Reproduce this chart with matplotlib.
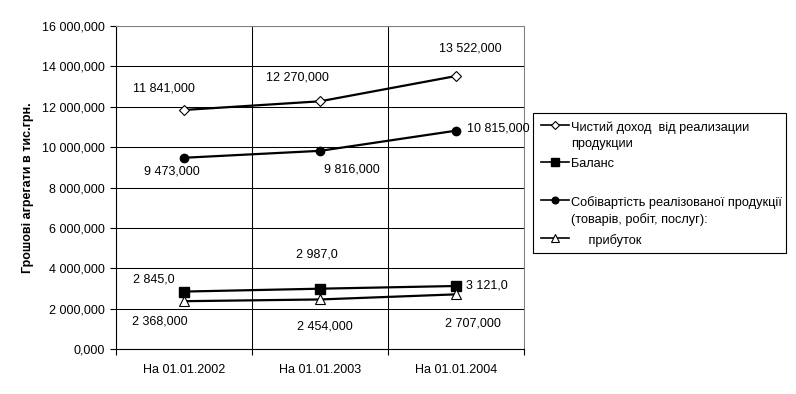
import matplotlib
matplotlib.use("Agg")
import matplotlib.pyplot as plt
from matplotlib.lines import Line2D
from matplotlib.patches import Rectangle
from matplotlib.ticker import FuncFormatter, MultipleLocator

plt.rcParams["font.family"] = ["Liberation Sans", "DejaVu Sans"]
plt.rcParams["font.size"] = 9

# --- data (тис. грн) ---
categories = ["На 01.01.2002", "На 01.01.2003", "На 01.01.2004"]
revenue = [11841, 12270, 13522]
balance = [2845, 2987, 3121]
cost = [9473, 9816, 10815]
profit = [2368, 2454, 2707]

revenue_labels = ["11 841,000", "12 270,000", "13 522,000"]
balance_labels = ["2 845,0", "2 987,0", "3 121,0"]
cost_labels = ["9 473,000", "9 816,000", "10 815,000"]
profit_labels = ["2 368,000", "2 454,000", "2 707,000"]

legend_names = ["Чистий доход  від реализации\nпродукции",
                "Баланс",
                "Собівартість реалізованої продукції\n(товарів, робіт, послуг):",
                "     прибуток"]

W, H = 796, 394
fig = plt.figure(figsize=(W / 100, H / 100), dpi=100)
ax = fig.add_axes([116 / W, 1 - 349 / H, (524 - 116) / W, (349 - 26) / H])

x = range(len(categories))
styles = [
    dict(marker="D", markersize=5.5, markerfacecolor="white", markeredgecolor="black", markeredgewidth=0.8),
    dict(marker="s", markersize=6.5, markerfacecolor="black", markeredgecolor="black"),
    dict(marker="o", markersize=6, markerfacecolor="black", markeredgecolor="black"),
    dict(marker="^", markersize=7, markerfacecolor="white", markeredgecolor="black", markeredgewidth=0.8),
]
series = [revenue, balance, cost, profit]
for vals, st in zip(series, styles):
    ax.plot(x, vals, color="black", linewidth=1.6, zorder=3, **st)

# data labels: offsets in pixels from the point
def label(vals, texts, offsets, has):
    for i, (v, t) in enumerate(zip(vals, texts)):
        ax.annotate(t, (i, v), xytext=offsets[i], textcoords="offset pixels",
                    ha=has[i], va="center", fontsize=9)

label(revenue, revenue_labels, [(-20, 21), (-23, 24), (14, 28)], ["center"] * 3)
label(cost, cost_labels, [(-12, -14), (32, -19), (11, 2)], ["center", "center", "left"])
label(balance, balance_labels, [(-30, 12), (-3, 34), (10, 0)], ["center", "center", "left"])
label(profit, profit_labels, [(-24, -20), (5, -27), (17, -29)], ["center"] * 3)

ax.set_xlim(-0.5, 2.5)
ax.set_ylim(0, 16000)
ax.yaxis.set_major_locator(MultipleLocator(2000))
ax.yaxis.set_major_formatter(FuncFormatter(
    lambda v, p: "{:,}".format(int(round(v))).replace(",", " ") + ",000"))
ax.set_xticks(list(x))
ax.set_xticklabels(categories)
ax.set_xticks([-0.5, 0.5, 1.5, 2.5], minor=True)
ax.tick_params(axis="x", which="major", length=0, pad=11)
ax.tick_params(axis="x", which="minor", length=4, direction="out", width=0.8)
ax.tick_params(axis="y", length=4, direction="out", width=0.8, pad=4)

ax.grid(axis="y", which="major", color="black", linewidth=0.75)
ax.grid(axis="x", which="minor", color="black", linewidth=0.75)
ax.set_axisbelow(True)
for s in ["top", "right"]:
    ax.spines[s].set_color("#808080")
    ax.spines[s].set_linewidth(0.75)
for s in ["left", "bottom"]:
    ax.spines[s].set_linewidth(0.8)

ax.set_ylabel("Грошові агрегати в тис.грн.", fontweight="bold", fontsize=9)
ax.yaxis.set_label_coords(-82 / (524 - 116), 0.5)

# legend drawn by hand to keep the uneven Excel spacing
fig.patches.append(Rectangle((533 / W, 1 - 253 / H), (786 - 533) / W, (253 - 113) / H,
                             transform=fig.transFigure, fill=False, edgecolor="black", linewidth=0.8))
entry_y = [125, 162, 200, 238]
for name, st, yy in zip(legend_names, styles, entry_y):
    yf = 1 - yy / H
    fig.add_artist(Line2D([541 / W, 569 / W], [yf, yf], color="black", linewidth=1.2,
                          transform=fig.transFigure))
    fig.add_artist(Line2D([555 / W], [yf], transform=fig.transFigure, linestyle="none",
                          **dict(st, markersize=st["markersize"] * 0.8)))
    fig.text(571 / W, yf + 4 / H, name, ha="left", va="top", fontsize=9.2, linespacing=1.45)

fig.savefig("out.png", dpi=100)
